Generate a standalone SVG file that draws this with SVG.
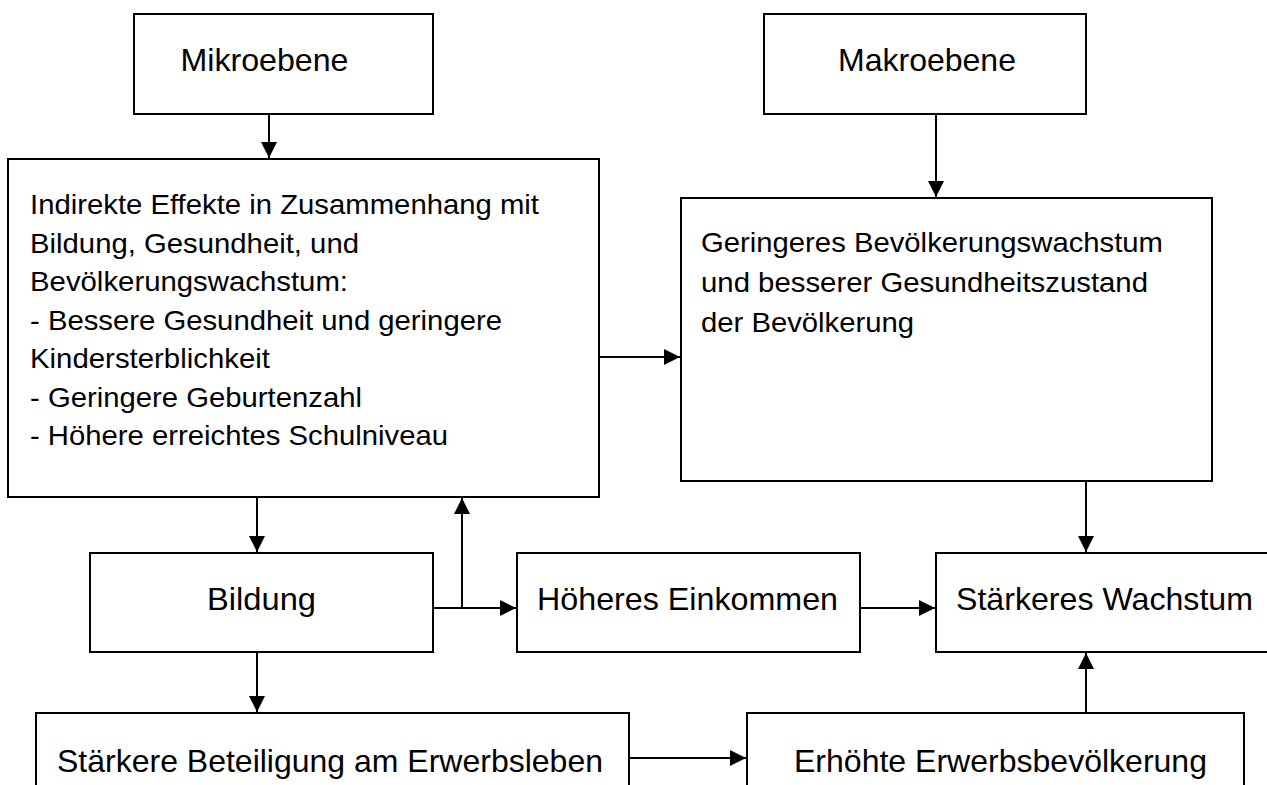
<svg xmlns="http://www.w3.org/2000/svg" width="1267" height="785" viewBox="0 0 1267 785">
<style>
.box{fill:#fff;stroke:#000;stroke-width:2}
.lbl{font-family:"Liberation Sans",Arial,sans-serif;font-size:31.5px;fill:#000}
.txt{font-family:"Liberation Sans",Arial,sans-serif;font-size:28px;fill:#000}
.con{fill:none;stroke:#000;stroke-width:2}
</style>
<defs>
<marker id="ah" markerUnits="userSpaceOnUse" markerWidth="17" markerHeight="18" refX="16" refY="9" orient="auto">
<path d="M0,1 L16,9 L0,17 z" fill="#000"/>
</marker>
</defs>
<rect width="1267" height="785" fill="#fff"/>
<g id="mikro"><rect class="box" x="134" y="14" width="299" height="100"/><text class="lbl" x="180.5" y="71" textLength="168" lengthAdjust="spacingAndGlyphs">Mikroebene</text></g>
<g id="makro"><rect class="box" x="764" y="14" width="322" height="100"/><text class="lbl" x="838" y="71" textLength="178" lengthAdjust="spacingAndGlyphs">Makroebene</text></g>
<g id="indirekt"><rect class="box" x="8" y="159" width="591" height="338"/>
<text class="txt" x="30" y="214" textLength="509" lengthAdjust="spacingAndGlyphs">Indirekte Effekte in Zusammenhang mit</text>
<text class="txt" x="30" y="252.5" textLength="329" lengthAdjust="spacingAndGlyphs">Bildung, Gesundheit, und</text>
<text class="txt" x="30" y="291" textLength="318" lengthAdjust="spacingAndGlyphs">Bevölkerungswachstum:</text>
<text class="txt" x="30" y="329.5" textLength="472" lengthAdjust="spacingAndGlyphs">- Bessere Gesundheit und geringere</text>
<text class="txt" x="30" y="368" textLength="240" lengthAdjust="spacingAndGlyphs">Kindersterblichkeit</text>
<text class="txt" x="30" y="406.5" textLength="332" lengthAdjust="spacingAndGlyphs">- Geringere Geburtenzahl</text>
<text class="txt" x="30" y="445" textLength="418" lengthAdjust="spacingAndGlyphs">- Höhere erreichtes Schulniveau</text>
</g>
<g id="geringeres"><rect class="box" x="681" y="198" width="531" height="283"/>
<text class="txt" x="701" y="252" textLength="462" lengthAdjust="spacingAndGlyphs">Geringeres Bevölkerungswachstum</text>
<text class="txt" x="701" y="292" textLength="447" lengthAdjust="spacingAndGlyphs">und besserer Gesundheitszustand</text>
<text class="txt" x="701" y="331.5" textLength="213" lengthAdjust="spacingAndGlyphs">der Bevölkerung</text>
</g>
<g id="bildung"><rect class="box" x="90" y="553" width="343" height="99"/><text class="lbl" x="207" y="610" textLength="109" lengthAdjust="spacingAndGlyphs">Bildung</text></g>
<g id="einkommen"><rect class="box" x="517" y="553" width="343" height="99"/><text class="lbl" x="537" y="610" textLength="301" lengthAdjust="spacingAndGlyphs">Höheres Einkommen</text></g>
<g id="wachstum"><rect class="box" x="936" y="553" width="333" height="99"/><text class="lbl" x="956" y="610" textLength="297" lengthAdjust="spacingAndGlyphs">Stärkeres Wachstum</text></g>
<g id="beteiligung"><rect class="box" x="36" y="713" width="593" height="90"/><text class="lbl" x="57" y="772" textLength="546" lengthAdjust="spacingAndGlyphs">Stärkere Beteiligung am Erwerbsleben</text></g>
<g id="erwerbsbev"><rect class="box" x="747" y="713" width="497" height="90"/><text class="lbl" x="794" y="772" textLength="413" lengthAdjust="spacingAndGlyphs">Erhöhte Erwerbsbevölkerung</text></g>
<g id="connectors">
<path class="con" d="M269,114 V158" marker-end="url(#ah)"/>
<path class="con" d="M936,114 V197" marker-end="url(#ah)"/>
<path class="con" d="M599,357 H680" marker-end="url(#ah)"/>
<path class="con" d="M257,497 V552" marker-end="url(#ah)"/>
<path class="con" d="M433,608 H516" marker-end="url(#ah)"/>
<path class="con" d="M462,608 V498" marker-end="url(#ah)"/>
<path class="con" d="M860,608 H935" marker-end="url(#ah)"/>
<path class="con" d="M1086,481 V552" marker-end="url(#ah)"/>
<path class="con" d="M257,652 V712" marker-end="url(#ah)"/>
<path class="con" d="M629,758 H746" marker-end="url(#ah)"/>
<path class="con" d="M1086,713 V653" marker-end="url(#ah)"/>
</g>
</svg>
